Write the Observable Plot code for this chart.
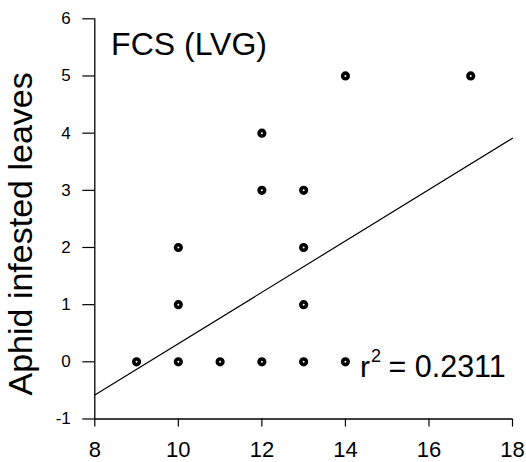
<!DOCTYPE html>
<html>
<head>
<meta charset="utf-8">
<script src="https://cdn.jsdelivr.net/npm/d3@7"></script>
<script src="https://cdn.jsdelivr.net/npm/@observablehq/plot@0.6"></script>
<style>
  html, body { margin: 0; padding: 0; background: #fff; }
  #chart svg { display: block; }
</style>
</head>
<body>
<div id="chart"></div>
<script>
// Observed points (x, y)
const xValues = [9, 10, 10, 10, 11, 12, 12, 12, 13, 13, 13, 13, 14, 14, 17];
const yValues = [0, 0, 1, 2, 0, 0, 3, 4, 0, 1, 2, 3, 0, 5, 5];

// Regression line endpoints
const fitX = [8, 18];
const fitY = [-0.58, 3.91];

// Axis ticks
const xTicks = [8, 10, 12, 14, 16, 18];
const yTicks = [-1, 0, 1, 2, 3, 4, 5, 6];

// Texts
const titleText = "FCS (LVG)";
const yLabel = "Aphid infested leaves";
const r2Base = "r";
const r2Sup = "2";
const r2Rest = "= 0.2311";

const points = xValues.map((x, i) => ({x, y: yValues[i]}));
const fit = fitX.map((x, i) => ({x, y: fitY[i]}));

const font = "'Liberation Sans', Arial, Helvetica, sans-serif";

const chart = Plot.plot({
  width: 526,
  height: 462,
  marginLeft: 94.3,
  marginRight: 14,
  marginTop: 18.3,
  marginBottom: 43.5,
  style: {fontFamily: font, color: "black", background: "white", overflow: "visible"},
  x: {domain: [8, 18]},
  y: {domain: [-1, 6]},
  marks: [
    Plot.axisY({ticks: yTicks, tickSize: 12, tickPadding: 12, fontSize: 17, label: null,
                tickFormat: d => String(d), stroke: "black", strokeWidth: 1.2}),
    Plot.axisX({ticks: xTicks, tickSize: 8, tickPadding: 14, fontSize: 22, label: null,
                tickFormat: d => String(d), stroke: "black", strokeWidth: 1.2}),
    Plot.ruleX([8], {stroke: "black", strokeWidth: 1.3}),
    Plot.ruleY([-1], {stroke: "black", strokeWidth: 1.3}),
    Plot.line(fit, {x: "x", y: "y", stroke: "black", strokeWidth: 1.2}),
    Plot.dot(points, {x: "x", y: "y", r: 2.8, stroke: "black", strokeWidth: 3.6, fill: "white"}),
    Plot.text([titleText], {x: 8.39, y: 5.55, text: d => d, textAnchor: "start", lineAnchor: "middle",
                fontSize: 32, fill: "black"}),
    Plot.text([r2Base], {x: 14.35, y: -0.09, text: d => d, textAnchor: "start", lineAnchor: "middle",
                fontSize: 30, fill: "black"}),
    Plot.text([r2Sup], {x: 14.61, y: 0.1, text: d => d, textAnchor: "start", lineAnchor: "middle",
                fontSize: 18, fill: "black"}),
    Plot.text([r2Rest], {x: 15.03, y: -0.09, text: d => d, textAnchor: "start", lineAnchor: "middle",
                fontSize: 30.5, fill: "black"}),
    Plot.text([yLabel], {frameAnchor: "left", text: d => d, rotate: -90, dx: -74, dy: 15,
                textAnchor: "middle", lineAnchor: "middle", fontSize: 34, fill: "black"})
  ]
});

document.getElementById("chart").appendChild(chart);
</script>
</body>
</html>
